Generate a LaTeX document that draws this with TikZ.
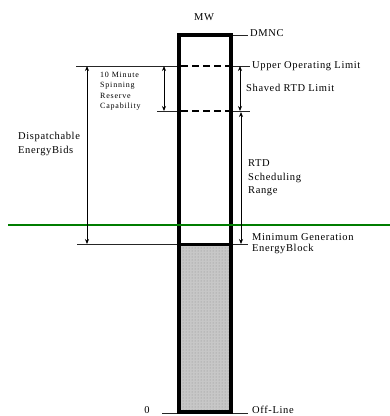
\documentclass[tikz,border=0pt]{standalone}
\usepackage{fontspec}
\setmainfont[LetterSpace=6]{Liberation Serif}
\newfontfamily\tinyfont[LetterSpace=10]{Liberation Serif}
\usetikzlibrary{arrows.meta,patterns}
\definecolor{lineGreen}{RGB}{0,125,0}
\tikzset{
  level/.style={line width=0.8pt, black!85},
  dimarrow/.style={<->, line width=0.8pt},
  lbl/.style={anchor=west, inner sep=0pt, align=left, font=\fontsize{10.5}{13.5}\selectfont},
  tinylbl/.style={anchor=north west, inner sep=0pt, align=left, font=\tinyfont\fontsize{8}{10.3}\selectfont}
}
\begin{document}
\begin{tikzpicture}[x=1pt, y=-1pt, >={Stealth[length=5pt,width=4pt]}]
  \useasboundingbox (0,0) rectangle (390,416);

  % 1. level points
  \coordinate (barTL) at (179,35);
  \coordinate (barBR) at (231,412);
  \coordinate (uolL) at (76,66);    \coordinate (uolR) at (250,66);
  \coordinate (srtdL) at (157,111); \coordinate (srtdR) at (250,111);
  \coordinate (mgL) at (77,244);    \coordinate (mgR) at (248,244);
  \coordinate (zeroL) at (162,413); \coordinate (zeroR) at (248,413);
  \coordinate (dmncR) at (248,35);

  % 2. shaded minimum generation block (bottom layer)
  \fill[black!22] (179,244) rectangle (barBR);
  \fill[pattern=dots, pattern color=black!45] (179,244) rectangle (barBR);

  % 3. thin level lines
  \draw[level] (uolL) -- (uolL -| barTL);
  \draw[level] (uolR -| barBR) -- (uolR);
  \draw[level] (srtdL) -- (srtdL -| barTL);
  \draw[level] (srtdR -| barBR) -- (srtdR);
  \draw[level] (mgL) -- (mgR);
  \draw[level] (zeroL) -- (zeroR);
  \draw[level] (barBR |- dmncR) -- (dmncR);

  % dashed limits inside the bar
  \draw[line width=1.6pt, dash pattern=on 7pt off 4pt] (181,66) -- (229,66);
  \draw[line width=1.2pt, dash pattern=on 7pt off 4pt] (181,111) -- (229,111);

  % 4. the MW bar
  \draw[line width=3.5pt] (barTL) rectangle (barBR);
  \draw[line width=3pt] (179,244.5) -- (231,244.5);

  % 5. green line
  \draw[lineGreen, line width=1.6pt] (8,225) -- (390,225);

  % 6. range arrows
  \draw[dimarrow] (87,66) -- (87,244);
  \draw[dimarrow] (164,66) -- (164,111);
  \draw[dimarrow] (240,66) -- (240,111);
  \draw[dimarrow] (241,112) -- (241,244);

  % 7. labels
  \node[lbl, anchor=center] (mw) at (204,17) {MW};
  \node[lbl] (dmnc) at (250,33) {DMNC};
  \node[lbl] (uol) at (252,66) {Upper Operating Limit};
  \node[lbl] (srtd) at (246,88) {Shaved RTD Limit};
  \node[tinylbl] (spin) at (100,72) {10 Minute\\Spinning\\Reserve\\Capability};
  \node[lbl] (dispatch) at (18,144) {Dispatchable\\EnergyBids};
  \node[lbl] (rtdrange) at (248,178) {RTD\\Scheduling\\Range};
  \node[lbl, font=\fontsize{10.5}{11}\selectfont] (mingen) at (252,243.5) {Minimum Generation\\EnergyBlock};
  \node[lbl, anchor=center] (zero) at (147,410) {0};
  \node[lbl] (offline) at (252,410) {Off-Line};
\end{tikzpicture}
\end{document}
